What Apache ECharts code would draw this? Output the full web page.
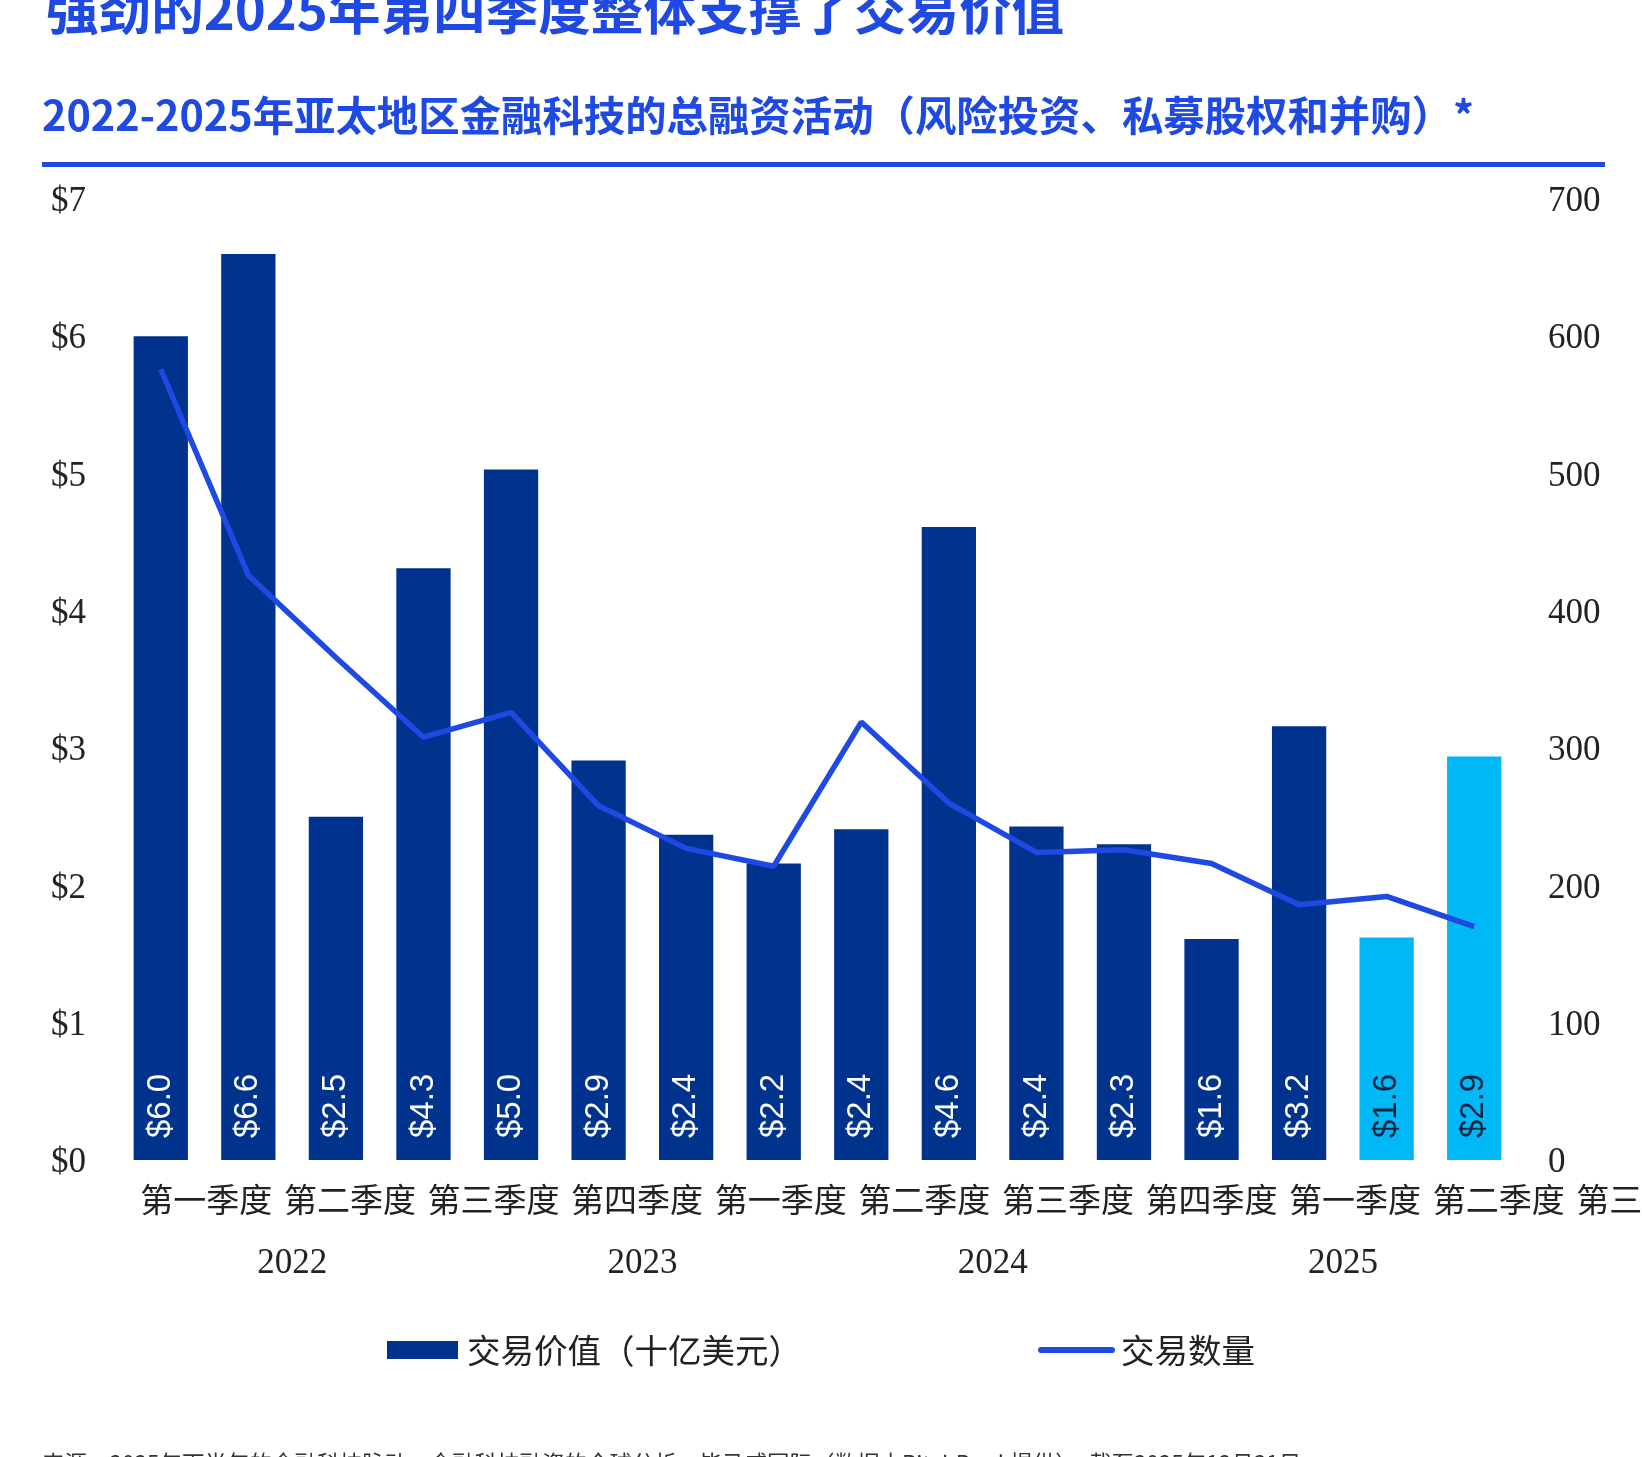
<!DOCTYPE html>
<html>
<head>
<meta charset="utf-8">
<script src="https://cdn.jsdelivr.net/npm/echarts@6/dist/echarts.min.js"></script>
<style>
  html, body { margin: 0; background: #fff; }
  #chart { width: 1642px; height: 1457px; }
</style>
</head>
<body>
<div id="chart"></div>
<script>
const quarters = [
  '第一季度', '第二季度', '第三季度', '第四季度',
  '第一季度', '第二季度', '第三季度', '第四季度',
  '第一季度', '第二季度', '第三季度', '第四季度',
  '第一季度', '第二季度', '第三季度', '第四季度'
]
const years = ['2022', '2023', '2024', '2025']
// deal value, US$ billions
const dealValue = [6.0, 6.6, 2.5, 4.31, 5.03, 2.91, 2.37, 2.16, 2.41, 4.61, 2.43, 2.3, 1.61, 3.16, 1.62, 2.94]
// deal count
const dealCount = [576, 426, 366, 308, 326, 258, 227, 214, 319, 260, 224, 226, 216, 186, 192, 170]
const highlightFrom = 14

const valueName = '交易价值（十亿美元）'
const countName = '交易数量'

const BLUE = '#00338D'
const CYAN = '#00B8F5'
const COBALT = '#1E49E2'
const serif = '"Liberation Serif", "DejaVu Serif", serif'
const cjk = '"Noto Sans CJK SC", "Noto Sans", sans-serif'

const chart = echarts.init(document.getElementById('chart'))

chart.setOption({
  backgroundColor: '#fff',
  animation: false,
  graphic: [
    {
      type: 'text', x: 46, y: 10,
      style: { text: '强劲的2025年第四季度整体支撑了交易价值', font: 'bold 52.6px ' + cjk, fill: COBALT, verticalAlign: 'middle' }
    },
    {
      type: 'text', x: 42, y: 115,
      style: { text: '2022-2025年亚太地区金融科技的总融资活动（风险投资、私募股权和并购）*', font: 'bold 41.4px ' + cjk, fill: COBALT, verticalAlign: 'middle' }
    },
    {
      type: 'rect', shape: { x: 42, y: 162, width: 1563, height: 5 },
      style: { fill: COBALT }
    },
    {
      type: 'text', x: 42, y: 1452,
      style: { text: '来源：2025年下半年的金融科技脉动，金融科技融资的全球分析，毕马威国际（数据由PitchBook提供），截至2025年12月31日', font: '22.5px ' + cjk, fill: '#333', verticalAlign: 'top' }
    }
  ],
  legend: {
    left: 387,
    top: 1330,
    padding: 0,
    itemWidth: 71,
    itemHeight: 18,
    itemGap: 236,
    textStyle: { fontFamily: cjk, fontSize: 33.5, color: '#222', lineHeight: 40, padding: [0, 0, 0, 4] },
    data: [
      { name: valueName, icon: 'rect' },
      { name: countName, itemStyle: { opacity: 0 }, lineStyle: { width: 6, cap: 'round' } }
    ]
  },
  grid: [
    { left: 117, right: 124, top: 199, bottom: 297, outerBoundsMode: 'none' },
    { left: 134.5, width: 2297.6, top: 199, bottom: 297, outerBoundsMode: 'none' }
  ],
  xAxis: [
    {
      type: 'category', gridIndex: 0, data: quarters, position: 'bottom',
      axisLine: { show: false }, axisTick: { show: false }, axisLabel: { show: false }
    },
    {
      type: 'category', gridIndex: 1, data: quarters, position: 'bottom',
      axisLine: { show: false }, axisTick: { show: false },
      axisLabel: { interval: 0, margin: 23, fontFamily: cjk, fontSize: 33, color: '#222' }
    },
    {
      type: 'category', gridIndex: 0, data: years, position: 'bottom',
      axisLine: { show: false }, axisTick: { show: false },
      axisLabel: { interval: 0, margin: 86, fontFamily: serif, fontSize: 35, color: '#222' }
    }
  ],
  yAxis: [
    {
      type: 'value', gridIndex: 0, min: 0, max: 7, interval: 1,
      axisLine: { show: false }, axisTick: { show: false }, splitLine: { show: false },
      axisLabel: { margin: 31, verticalAlign: 'top', lineHeight: 6, fontFamily: serif, fontSize: 35, color: '#222', formatter: v => '$' + v }
    },
    {
      type: 'value', gridIndex: 0, min: 0, max: 700, interval: 100, position: 'right',
      axisLine: { show: false }, axisTick: { show: false }, splitLine: { show: false },
      axisLabel: { margin: 30, verticalAlign: 'top', lineHeight: 6, fontFamily: serif, fontSize: 35, color: '#222' }
    },
    {
      type: 'value', gridIndex: 1, show: false
    }
  ],
  series: [
    {
      name: valueName,
      type: 'bar',
      xAxisIndex: 0,
      yAxisIndex: 0,
      barWidth: '62%',
      itemStyle: { color: BLUE },
      data: dealValue.map((v, i) => ({
        value: v,
        itemStyle: { color: i >= highlightFrom ? CYAN : BLUE },
        label: { color: i >= highlightFrom ? '#0d2440' : '#fff' }
      })),
      label: {
        show: true,
        position: 'insideBottom',
        distance: 22,
        rotate: 90,
        align: 'left',
        verticalAlign: 'middle',
        fontFamily: '"Liberation Sans", Arial, sans-serif',
        fontSize: 33,
        formatter: p => '$' + p.value.toFixed(1)
      }
    },
    {
      name: countName,
      type: 'line',
      xAxisIndex: 0,
      yAxisIndex: 1,
      data: dealCount,
      symbol: 'none',
      z: 5,
      itemStyle: { color: COBALT },
      lineStyle: { color: COBALT, width: 5.5 }
    }
  ]
})

window.addEventListener('resize', () => chart.resize())
</script>
</body>
</html>
